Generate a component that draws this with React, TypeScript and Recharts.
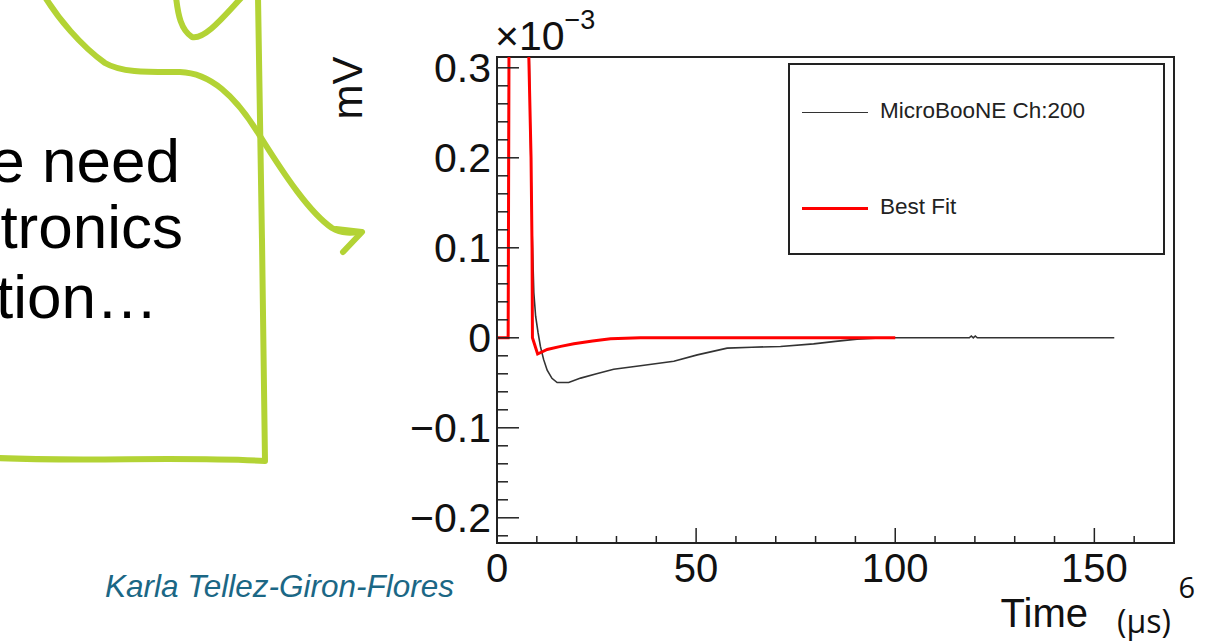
import React from 'react';
import { LineChart, Line, XAxis, YAxis, ReferenceArea, Legend } from 'recharts';

// time in µs, amplitude in units of 1e-3 mV
const measuredTime = [0, 2.8, 3.0, 3.3, 5.0, 7.6, 8.1, 8.3, 8.8, 9.25, 9.7, 10.3, 10.9, 11.7, 12.6, 13.8, 15.1, 18.0, 21.0, 25.0, 29.3, 36.0, 44.4, 50.3, 57.8, 64.0, 71.2, 79.5, 85.0, 90.4, 95.0, 99.6, 102.0, 118.6, 119.1, 119.6, 120.1, 120.6, 130.0, 140.0, 155.0];
const measuredVolt = [0, 0, 0.35, 1.3, 1.8, 1.2, 0.31, 0.25, 0.12, 0.05, 0.024, 0.006, -0.0096, -0.024, -0.036, -0.045, -0.0497, -0.0497, -0.0448, -0.04, -0.035, -0.031, -0.026, -0.019, -0.0115, -0.0105, -0.0096, -0.0067, -0.004, -0.0015, -0.0005, 0, 0, 0, 0.002, 0, 0.002, 0, 0, 0, 0];

const fitTime = [0, 2.8, 3.0, 3.3, 5.0, 7.5, 8.0, 8.55, 8.8, 8.9, 10.2, 12.6, 16.0, 19.3, 24.0, 28.5, 36.0, 50.0, 70.0, 100.0];
const fitVolt = [0, 0, 0.3, 1.1, 1.6, 1.0, 0.31, 0.2, 0.1, 0.0, -0.018, -0.013, -0.0095, -0.0067, -0.0035, -0.001, 0, 0, 0, 0];

const xMajor = [0, 50, 100, 150];
const yMajor = [-0.2, -0.1, 0, 0.1, 0.2, 0.3];

const X_MAX = 170;
const Y_MIN = -0.228;
const Y_MAX = 0.312;

const measured = measuredTime.map((t, i) => ({ t, v: measuredVolt[i] }));
const fit = fitTime.map((t, i) => ({ t, v: fitVolt[i] }));

// minor ticks every 10 µs and every 0.02
const xTicks: number[] = [];
for (let t = 0; t <= X_MAX; t += 10) xTicks.push(t);
const yTicks: number[] = [];
for (let k = -11; k <= 15; k++) yTicks.push(Math.round(k * 2) / 100);

const INK = '#222';
const FONT = '"Liberation Sans", Arial, Helvetica, sans-serif';
const GREEN = '#b3d335';

const fmtY = (v: number) => (v === 0 ? '0' : v < 0 ? '\u2212' + String(Math.abs(v)) : String(v));

const XTick = (props: any) => {
  const { x, y, payload } = props;
  const major = xMajor.includes(payload.value);
  return (
    <g>
      <line x1={x} x2={x} y1={y} y2={y - (major ? 15 : 7)} stroke={INK} strokeWidth={1.5} />
      {major && (
        <text x={x} y={y + 39} textAnchor="middle" fontSize={40} fontFamily={FONT} fill="#111">
          {payload.value}
        </text>
      )}
    </g>
  );
};

const YTick = (props: any) => {
  const { x, y, payload } = props;
  const major = yMajor.some((m) => Math.abs(m - payload.value) < 1e-9);
  return (
    <g>
      <line x1={x} x2={x + (major ? 22 : 11)} y1={y} y2={y} stroke={INK} strokeWidth={1.5} />
      {major && (
        <text x={x - 6} y={y + 14} textAnchor="end" fontSize={41} fontFamily={FONT} fill="#111">
          {fmtY(payload.value)}
        </text>
      )}
    </g>
  );
};

const LegendBox = () => (
  <div
    style={{
      width: 373,
      height: 188,
      border: `2px solid ${INK}`,
      background: '#fff',
      position: 'relative',
      fontFamily: FONT,
      fontSize: 22.5,
      color: '#222',
    }}
  >
    <div style={{ position: 'absolute', left: 12, top: 47, width: 66, height: 0, borderTop: '1.5px solid #333' }} />
    <div style={{ position: 'absolute', left: 90, top: 33 }}>MicroBooNE Ch:200</div>
    <div style={{ position: 'absolute', left: 12, top: 142, width: 66, height: 0, borderTop: '3px solid #f00' }} />
    <div style={{ position: 'absolute', left: 90, top: 129 }}>Best Fit</div>
  </div>
);

export default function App() {
  return (
    <div style={{ position: 'absolute', left: 0, top: 0, width: 1205, height: 644, background: '#fff', overflow: 'hidden' }}>
      <svg width={1205} height={644} style={{ position: 'absolute', left: 0, top: 0 }}>
        <g fill="none" stroke={GREEN} strokeWidth={6} strokeLinecap="round" strokeLinejoin="round">
          <path d="M45,-3 C58,18 80,45 105,63 C122,73 150,72 180,72 C210,73 235,95 260,136 C285,176 310,213 332,228 C342,234 352,233 361,232" />
          <path d="M343,252 L362,232 L336,229" />
          <path d="M258,-3 C259,80 260,160 262,240 C263,320 264,400 265,461 C180,456 90,462 -3,458" />
          <path d="M176,-3 C178,15 181,30 192,37 C205,40 225,15 242,-3" />
        </g>
        <g fontFamily={FONT} fontSize={62} fill="#000" textAnchor="end">
          <text x={180} y={182}>e need</text>
          <text x={183} y={248}>tronics</text>
          <text x={158} y={318}>tion…</text>
        </g>
        <text x={105} y={597} fontFamily={FONT} fontSize={31.5} fontStyle="italic" fill="#1b6785">
          Karla Tellez-Giron-Flores
        </text>
        <text x={1195} y={598} textAnchor="end" fontFamily='"Open Sans", sans-serif' fontSize={29} fill="#111">
          6
        </text>
      </svg>

      <div style={{ position: 'absolute', left: 0, top: 0 }}>
        <LineChart width={1205} height={644} margin={{ top: 57, right: 31, left: 0, bottom: 0 }}>
          <XAxis
            type="number"
            dataKey="t"
            domain={[0, X_MAX]}
            ticks={xTicks}
            interval={0}
            allowDataOverflow
            height={101}
            tickSize={0}
            tickMargin={0}
            tickLine={false}
            axisLine={{ stroke: INK, strokeWidth: 2 }}
            tick={<XTick />}
          />
          <YAxis
            type="number"
            dataKey="v"
            domain={[Y_MIN, Y_MAX]}
            ticks={yTicks}
            interval={0}
            allowDataOverflow
            width={497}
            tickSize={0}
            tickMargin={0}
            tickLine={false}
            axisLine={{ stroke: INK, strokeWidth: 2 }}
            tick={<YTick />}
          />
          <ReferenceArea x1={0} x2={X_MAX} y1={Y_MIN} y2={Y_MAX} fill="none" stroke={INK} strokeWidth={2} ifOverflow="visible" />
          <Line data={measured} dataKey="v" type="linear" stroke="#333" strokeWidth={1.6} dot={false} isAnimationActive={false} />
          <Line data={fit} dataKey="v" type="linear" stroke="#f00" strokeWidth={3} dot={false} isAnimationActive={false} />
          <Legend layout="horizontal" verticalAlign="middle" align="center" wrapperStyle={{ left: 788, top: 63, width: 377, height: 192 }} content={() => <LegendBox />} />
        </LineChart>
      </div>

      <svg width={1205} height={644} style={{ position: 'absolute', left: 0, top: 0, pointerEvents: 'none' }}>
        <text transform="translate(362,88) rotate(-90)" textAnchor="middle" fontFamily={FONT} fontSize={42} fill="#111">
          mV
        </text>
        <text x={495} y={50} fontFamily={FONT} fontSize={41} fill="#111">
          ×10
          <tspan dy={-21} fontSize={27}>
            −3
          </tspan>
        </text>
        <text x={1088} y={627} textAnchor="end" fontFamily={FONT} fontSize={40} fill="#111">
          Time
        </text>
        <text x={1117} y={633} fontFamily='"Open Sans", sans-serif' fontSize={32} fill="#111">
          (μs)
        </text>
      </svg>
    </div>
  );
}
